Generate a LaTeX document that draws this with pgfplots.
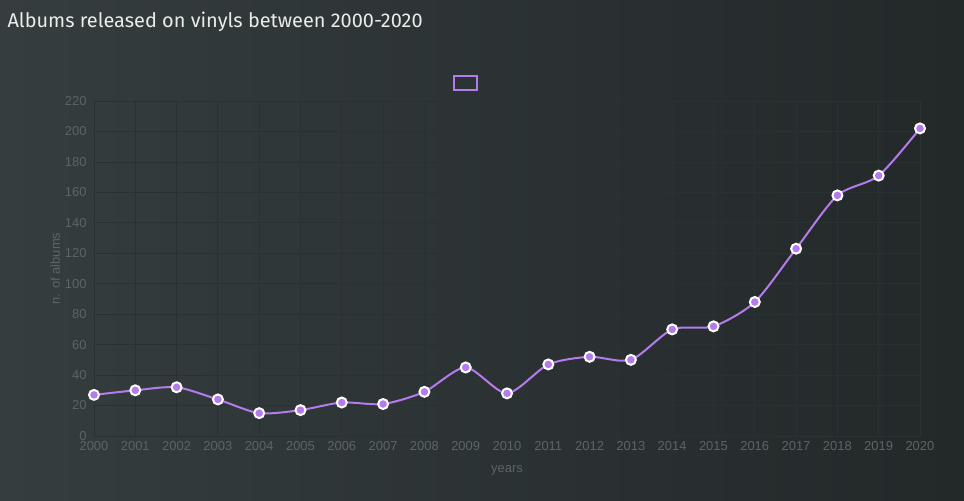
\documentclass[border=0pt]{standalone}
\usepackage{pgfplots}
\pgfplotsset{compat=1.18}
\usepackage{fontspec}
\setmainfont{Liberation Sans}
\newfontfamily\titlefont{Fira Sans}
\definecolor{bgL}{HTML}{353D3F}
\definecolor{bgR}{HTML}{232829}
\definecolor{gridc}{HTML}{2A3133}
\definecolor{tickc}{HTML}{5C6466}
\definecolor{purp}{HTML}{B57BEE}
\begin{document}
\begin{tikzpicture}[x=1bp,y=1bp]
\useasboundingbox (-94,-65) rectangle (870,436);
\shade[left color=bgL,right color=bgR] (-94,-65) rectangle (870,436);
\begin{axis}[at={(0,0)},anchor=south west,scale only axis,width=826bp,height=335bp,
  xmin=2000,xmax=2020,ymin=0,ymax=220,
  xtick={2000,...,2020},ytick={0,20,...,220},
  /pgf/number format/1000 sep={},
  /pgf/number format/assume math mode=true,
  grid=major,major grid style={gridc,line width=0.8pt},
  axis line style={draw=none},
  x axis line style={draw=gridc},
  tick style={draw=none},
  ticklabel style={font=\fontsize{13}{15}\selectfont,text=tickc},
  yticklabel style={xshift=-4bp},
  xticklabel style={yshift=-2bp},
  xlabel={years},ylabel={n. of albums},
  label style={font=\fontsize{13}{15}\selectfont,text=tickc},
  xlabel style={yshift=-8bp},
  ylabel style={yshift=-2bp},
  clip=false]
\addplot[purp,line width=2pt,smooth,tension=0.45,mark=*,
  mark options={fill=purp,draw=white,line width=2pt},mark size=5pt] coordinates {
(2000,27)(2001,30)(2002,32)(2003,24)(2004,15)(2005,17)(2006,22)(2007,21)(2008,29)(2009,45)
(2010,28)(2011,47)(2012,52)(2013,50)(2014,70)(2015,72)(2016,88)(2017,123)(2018,158)(2019,171)(2020,202)};
\end{axis}
\draw[purp,line width=2pt] (360,346) rectangle (383,360);
\node[anchor=west,text=white!92!black,font=\titlefont\fontsize{20}{24}\selectfont] at (-90,414) {Albums released on vinyls between 2000-2020};
\end{tikzpicture}
\end{document}
